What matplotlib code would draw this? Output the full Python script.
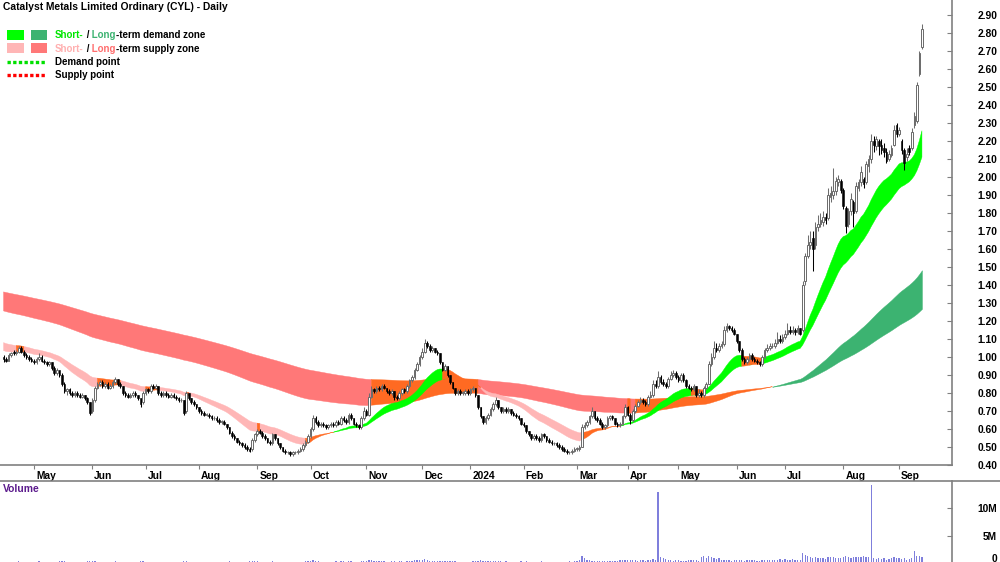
import numpy as np
import pandas as pd
import matplotlib
matplotlib.use("Agg")
import matplotlib.pyplot as plt
import matplotlib.transforms as mtrans
from matplotlib.patches import Rectangle
from matplotlib.lines import Line2D

plt.rcParams['font.family'] = ['Liberation Sans', 'DejaVu Sans']

# ---------------- data ----------------
asx_holidays = ['2023-04-25', '2023-06-12', '2023-12-25', '2023-12-26', '2024-01-01',
                '2024-01-26', '2024-03-29', '2024-04-01', '2024-04-25', '2024-06-10']

opens = [
    1.00, .99, .98, 1.01, 1.03, 1.02, 1.03, 1.05, 1.03, 1.01,
    1.00, .99, .98, .97, .99, 1.00, .98, .97, .96, .97,
    .94, .91, .93, .90, .85, .81, .82, .80, .79, .80,
    .79, .78, .79, .77, .75, .70, .76, .83, .85, .86,
    .84, .85, .83, .84, .86, .88, .85, .84, .80, .79,
    .78, .79, .80, .79, .77, .75, .80, .82, .81, .84,
    .83, .84, .80, .79, .80, .79, .78, .79, .78, .77,
    .76, .76, .70, .80, .77, .75, .74, .72, .70, .69,
    .68, .68, .67, .66, .66, .65, .64, .64, .63, .61,
    .58, .56, .55, .53, .52, .51, .50, .49, .49, .54,
    .57, .59, .58, .56, .55, .53, .52, .57, .55, .52,
    .50, .48, .47, .47, .46, .47, .47, .48, .49, .51,
    .53, .56, .60, .66, .64, .62, .63, .62, .61, .62,
    .63, .62, .64, .63, .66, .65, .64, .68, .66, .63,
    .62, .61, .66, .70, .68, .78, .82, .81, .83, .82,
    .84, .83, .81, .80, .81, .78, .77, .80, .82, .81,
    .84, .87, .89, .93, .96, 1.00, 1.03, 1.08, 1.06, 1.04,
    1.05, 1.03, 1.02, .97, .93, .95, .90, .86, .83, .80,
    .81, .80, .80, .81, .80, .82, .83, .79, .72, .67,
    .64, .66, .68, .71, .74, .76, .72, .70, .71, .70,
    .71, .69, .68, .67, .66, .63, .62, .59, .57, .55,
    .56, .55, .54, .57, .56, .54, .53, .52, .52, .51,
    .50, .49, .48, .47, .47, .48, .49, .49, .50, .61,
    .62, .64, .67, .70, .66, .65, .63, .61, .62, .66,
    .67, .66, .63, .62, .63, .67, .72, .68, .65, .70,
    .73, .75, .76, .75, .74, .78, .79, .85, .84, .89,
    .86, .85, .84, .88, .90, .91, .89, .87, .90, .87,
    .84, .83, .82, .84, .79, .80, .79, .83, .85, .96,
    1.00, 1.05, 1.04, 1.06, 1.07, 1.15, 1.17, 1.16, 1.15, 1.13,
    1.09, 1.04, .99, .97, .99, 1.01, .99, .98, .97, .96,
    1.00, 1.04, 1.05, 1.06, 1.06, 1.08, 1.10, 1.09, 1.11, 1.13,
    1.15, 1.14, 1.15, 1.14, 1.16, 1.15, 1.42, 1.56, 1.62, 1.66,
    1.62, 1.72, 1.74, 1.75, 1.78, 1.77, 1.89, 1.90, 1.92, 1.97,
    1.98, 1.93, 1.83, 1.74, 1.81, 1.86, 1.81, 1.94, 1.97, 1.99,
    1.97, 2.06, 2.10, 2.20, 2.17, 2.20, 2.18, 2.16, 2.14, 2.10,
    2.12, 2.18, 2.29, 2.24, 2.20, 2.15, 2.11, 2.16, 2.16, 2.29,
    2.31, 2.57, 2.72]

highs = [
    1.01, 1.00, 1.02, 1.03, 1.04, 1.04, 1.06, 1.06, 1.04, 1.02,
    1.01, 1.00, .99, 1.00, 1.02, 1.01, .99, .98, .98, .97,
    .95, .94, .93, .91, .86, .83, .83, .81, .81, .81,
    .80, .80, .79, .78, .75, .77, .84, .86, .87, .87,
    .86, .86, .85, .87, .89, .88, .86, .84, .81, .80,
    .80, .81, .81, .79, .77, .81, .83, .83, .85, .85,
    .85, .84, .81, .81, .81, .80, .80, .80, .79, .78,
    .77, .76, .81, .80, .77, .76, .74, .72, .71, .70,
    .69, .69, .68, .67, .67, .66, .65, .65, .63, .61,
    .59, .57, .55, .54, .53, .52, .51, .50, .55, .58,
    .60, .60, .59, .57, .55, .54, .58, .57, .55, .52,
    .50, .49, .48, .48, .48, .48, .49, .50, .52, .54,
    .57, .61, .68, .67, .65, .64, .64, .63, .63, .64,
    .64, .65, .65, .67, .67, .66, .69, .69, .66, .64,
    .63, .67, .72, .71, .80, .84, .83, .84, .84, .85,
    .85, .83, .82, .82, .81, .79, .81, .83, .83, .85,
    .88, .90, .94, .97, 1.01, 1.05, 1.10, 1.09, 1.07, 1.06,
    1.05, 1.04, 1.02, .97, .96, .95, .90, .86, .83, .82,
    .82, .81, .82, .82, .83, .84, .83, .79, .72, .67,
    .67, .69, .72, .75, .78, .76, .72, .72, .72, .72,
    .71, .70, .69, .68, .66, .64, .62, .59, .57, .57,
    .57, .56, .58, .58, .56, .55, .54, .53, .53, .52,
    .51, .50, .49, .48, .49, .50, .50, .51, .63, .64,
    .65, .68, .72, .70, .67, .66, .64, .63, .67, .68,
    .68, .66, .64, .64, .68, .74, .73, .69, .71, .74,
    .76, .78, .77, .76, .79, .81, .87, .87, .92, .90,
    .88, .86, .89, .92, .93, .92, .90, .91, .91, .88,
    .85, .84, .85, .84, .82, .81, .84, .86, .98, 1.02,
    1.09, 1.08, 1.08, 1.09, 1.17, 1.19, 1.18, 1.17, 1.16, 1.13,
    1.09, 1.05, 1.00, 1.00, 1.02, 1.02, 1.00, .99, .98, 1.01,
    1.05, 1.07, 1.08, 1.08, 1.10, 1.14, 1.12, 1.13, 1.15, 1.19,
    1.17, 1.17, 1.16, 1.18, 1.16, 1.42, 1.58, 1.68, 1.70, 1.70,
    1.75, 1.79, 1.80, 1.81, 1.80, 1.94, 1.95, 2.05, 2.00, 2.01,
    1.99, 1.94, 1.84, 1.83, 1.91, 1.87, 1.97, 1.99, 2.06, 2.00,
    2.09, 2.12, 2.24, 2.23, 2.23, 2.21, 2.21, 2.19, 2.16, 2.15,
    2.18, 2.29, 2.30, 2.28, 2.21, 2.16, 2.16, 2.18, 2.27, 2.36,
    2.53, 2.70, 2.85]

lows = [
    .97, .97, .98, 1.00, 1.01, 1.01, 1.02, 1.02, 1.00, .99,
    .98, .97, .96, .96, .98, .97, .96, .95, .95, .93,
    .90, .90, .89, .84, .80, .79, .79, .78, .78, .78,
    .77, .77, .76, .74, .68, .69, .75, .82, .84, .83,
    .83, .82, .82, .83, .85, .84, .83, .79, .78, .77,
    .77, .78, .78, .76, .72, .74, .79, .80, .80, .82,
    .82, .79, .78, .78, .78, .77, .77, .77, .76, .75,
    .75, .68, .69, .76, .74, .73, .71, .69, .68, .67,
    .67, .66, .65, .65, .64, .63, .63, .62, .60, .57,
    .55, .54, .52, .51, .50, .49, .48, .47, .48, .53,
    .56, .57, .55, .54, .52, .51, .51, .54, .51, .49,
    .47, .46, .46, .45, .45, .46, .46, .47, .48, .50,
    .52, .55, .59, .63, .61, .61, .61, .60, .60, .61,
    .61, .61, .62, .62, .64, .63, .63, .65, .62, .61,
    .60, .60, .65, .67, .67, .77, .80, .80, .81, .81,
    .82, .80, .79, .79, .76, .76, .76, .79, .80, .80,
    .83, .86, .88, .92, .95, .99, 1.02, 1.05, 1.03, 1.03,
    1.02, 1.01, .96, .92, .92, .89, .85, .82, .79, .79,
    .79, .79, .79, .79, .79, .81, .78, .71, .66, .63,
    .63, .65, .67, .70, .73, .71, .69, .69, .69, .69,
    .68, .67, .66, .65, .62, .61, .58, .56, .54, .54,
    .54, .53, .53, .55, .53, .52, .51, .51, .50, .49,
    .48, .47, .46, .46, .46, .47, .48, .48, .50, .60,
    .61, .63, .66, .65, .64, .62, .60, .60, .61, .65,
    .65, .62, .61, .61, .62, .66, .67, .63, .64, .69,
    .72, .74, .74, .73, .73, .77, .78, .83, .83, .85,
    .84, .83, .83, .87, .89, .88, .86, .86, .86, .83,
    .82, .81, .81, .78, .78, .78, .78, .82, .85, .95,
    .99, 1.03, 1.03, 1.05, 1.06, 1.14, 1.15, 1.14, 1.12, 1.08,
    1.03, .98, .96, .96, .98, .98, .97, .96, .95, .95,
    .99, 1.03, 1.04, 1.05, 1.05, 1.07, 1.08, 1.08, 1.10, 1.12,
    1.13, 1.13, 1.12, 1.13, 1.12, 1.14, 1.40, 1.55, 1.60, 1.48,
    1.60, 1.70, 1.72, 1.73, 1.74, 1.76, 1.86, 1.88, 1.90, 1.95,
    1.91, 1.82, 1.69, 1.72, 1.79, 1.72, 1.80, 1.92, 1.95, 1.94,
    1.96, 2.03, 2.08, 2.14, 2.15, 2.12, 2.13, 2.11, 2.08, 2.09,
    2.11, 2.17, 2.22, 2.23, 2.13, 2.04, 2.09, 2.12, 2.15, 2.27,
    2.30, 2.56, 2.71]

closes = [
    .99, .98, 1.01, 1.02, 1.02, 1.03, 1.05, 1.03, 1.01, 1.00,
    .99, .98, .97, .99, 1.00, .98, .97, .96, .97, .94,
    .91, .93, .90, .85, .81, .82, .80, .79, .80, .79,
    .78, .79, .77, .75, .69, .76, .83, .85, .86, .84,
    .85, .83, .84, .86, .88, .85, .84, .80, .79, .78,
    .79, .80, .79, .77, .74, .80, .82, .81, .84, .83,
    .84, .80, .79, .80, .79, .78, .79, .78, .77, .76,
    .76, .69, .80, .77, .75, .74, .72, .70, .69, .68,
    .68, .67, .66, .66, .65, .64, .64, .63, .61, .58,
    .56, .55, .53, .52, .51, .50, .49, .48, .54, .57,
    .59, .58, .56, .55, .53, .52, .57, .55, .52, .50,
    .48, .47, .47, .46, .47, .47, .48, .49, .51, .53,
    .56, .60, .66, .64, .62, .63, .62, .61, .62, .63,
    .62, .64, .63, .66, .65, .64, .68, .66, .63, .62,
    .61, .66, .70, .68, .78, .82, .81, .83, .82, .84,
    .83, .81, .80, .81, .78, .77, .80, .82, .81, .84,
    .87, .89, .93, .96, 1.00, 1.03, 1.08, 1.06, 1.04, 1.05,
    1.03, 1.02, .97, .93, .95, .90, .86, .83, .80, .81,
    .80, .80, .81, .80, .82, .83, .79, .72, .67, .64,
    .66, .68, .71, .74, .76, .72, .70, .71, .70, .71,
    .69, .68, .67, .66, .63, .62, .59, .57, .55, .56,
    .55, .54, .57, .56, .54, .53, .52, .52, .51, .50,
    .49, .48, .47, .47, .48, .49, .49, .50, .61, .62,
    .64, .67, .70, .66, .65, .63, .61, .62, .66, .67,
    .66, .63, .62, .63, .67, .72, .68, .65, .70, .73,
    .75, .76, .75, .74, .78, .79, .85, .84, .89, .86,
    .85, .84, .88, .90, .91, .89, .87, .90, .87, .84,
    .83, .82, .84, .79, .80, .79, .83, .85, .96, 1.00,
    1.05, 1.04, 1.06, 1.07, 1.15, 1.17, 1.16, 1.15, 1.13, 1.09,
    1.04, .99, .97, .99, 1.01, .99, .98, .97, .96, 1.00,
    1.04, 1.05, 1.06, 1.06, 1.08, 1.10, 1.09, 1.11, 1.13, 1.15,
    1.14, 1.15, 1.14, 1.16, 1.13, 1.40, 1.56, 1.62, 1.64, 1.60,
    1.72, 1.74, 1.76, 1.78, 1.76, 1.90, 1.91, 1.92, 1.98, 1.99,
    1.93, 1.84, 1.73, 1.81, 1.88, 1.80, 1.95, 1.97, 2.03, 1.96,
    2.07, 2.10, 2.20, 2.18, 2.21, 2.17, 2.15, 2.14, 2.09, 2.13,
    2.16, 2.26, 2.24, 2.26, 2.15, 2.08, 2.13, 2.14, 2.25, 2.34,
    2.51, 2.69, 2.82]

volume_m = [
    .3, .2, .25, .3, .2, .15, .4, .3, .2, .2, .25, .15, .3, .2, .35, .25, .2, .3, .2, .15,
    .3, .25, .35, .4, .5, .3, .25, .2, .3, .2, .25, .3, .2, .35, .5, .45, .4, .3, .25, .3,
    .2, .25, .2, .3, .35, .25, .2, .3, .25, .2, .2, .15, .25, .3, .45, .35, .25, .2, .3, .25,
    .2, .3, .25, .2, .15, .2, .25, .2, .15, .2, .3, .5, .45, .3, .25, .2, .3, .2, .15, .2,
    .25, .2, .15, .2, .2, .25, .3, .2, .3, .35, .3, .25, .2, .3, .25, .2, .3, .35, .45, .4,
    .35, .3, .25, .2, .3, .2, .35, .3, .25, .2, .2, .15, .2, .2, .15, .25, .2, .3, .3, .35,
    .4, .5, .7, .45, .35, .3, .3, .25, .3, .3, .25, .35, .3, .4, .35, .3, .45, .35, .3, .25,
    .3, .45, .5, .4, .7, .6, .45, .4, .35, .4, .35, .3, .3, .35, .4, .3, .35, .4, .3, .4,
    .5, .5, .6, .65, .7, .6, .8, .6, .5, .45, .4, .35, .45, .5, .35, .4, .45, .4, .35, .3,
    .3, .25, .3, .2, .3, .35, .4, .5, .55, .45, .35, .4, .35, .45, .5, .4, .35, .3, .35, .3,
    .3, .25, .3, .3, .35, .3, .35, .3, .3, .25, .3, .25, .35, .3, .3, .25, .2, .25, .3, .25,
    .3, .25, .3, .35, .3, .4, .5, .6, 1.4, .9, .7, .6, .5, .45, .5, .4, .35, .4, .45, .4,
    .35, .4, .5, .55, .6, .7, .6, .55, .6, .55, .5, .6, .7, .5, .55, .6, .8, .7, 12.9, 1.2,
    1.0, .8, .7, .6, .5, .55, .6, .5, .45, .5, .6, .55, .7, .6, .5, 1.1, 1.3, 1.0, 1.4, 1.2,
    .9, .8, 1.0, .7, .6, .7, .6, .5, .55, .6, .7, .6, .5, .55, .6, .65, .6, .5, .5, .55,
    .6, .7, .65, .55, .6, .7, .75, .6, .8, .7, .6, .75, .7, .6, .7, 1.8, 1.6, 1.4, 1.2, 1.0,
    1.1, .9, 1.0, .9, .8, 1.1, 1.2, 1.1, 1.0, .9, 1.0, 1.1, 1.3, 1.2, 1.0, 1.1, 1.2, 1.1, 1.2, 1.3,
    1.1, 1.2, 14.1, 1.0, .8, .9, .8, .9, .7, .8, .9, 1.2, 1.0, .9, .8, .9, .7, .8, 1.0, 2.2, 1.4, 1.3, 1.2]

price_ticks = [0.4, 0.5, 0.6, 0.7, 0.8, 0.9, 1.0, 1.1, 1.2, 1.3, 1.4, 1.5, 1.6, 1.7,
               1.8, 1.9, 2.0, 2.1, 2.2, 2.3, 2.4, 2.5, 2.6, 2.7, 2.8, 2.9]

# Trend-zone moving averages (periods) and their values just before the first bar,
# read from the left edge of the chart
ST_FAST, ST_SLOW = 22, 36
LT_FAST, LT_SLOW = 135, 228
ST_FAST_START, ST_SLOW_START = 1.04, 1.085
LT_FAST_START, LT_SLOW_START = 1.26, 1.365
ST_LOOKBACK, LT_LOOKBACK = 1, 3

# ---------------- derived ----------------
n = len(closes)
o = np.array(opens); h = np.array(highs); l = np.array(lows); c = np.array(closes)
vol = np.array(volume_m) * 1e6
dates = pd.bdate_range('2023-04-12', '2024-09-30', freq='C', holidays=asx_holidays)[:n]
x = np.arange(n)


def ema(vals, period, start):
    a = 2.0 / (period + 1)
    out = np.empty(len(vals))
    e = start
    for i, v in enumerate(vals):
        e = e + a * (v - e)
        out[i] = e
    return out


def zone_state(fast, slow, start, k):
    prev = np.r_[np.full(k, start), fast[:-k]]
    rising = fast >= prev
    return np.where((fast > slow) & rising, 0,
                    np.where((fast < slow) & ~rising, 1, 2))


st_f = ema(c, ST_FAST, ST_FAST_START); st_s = ema(c, ST_SLOW, ST_SLOW_START)
lt_f = ema(c, LT_FAST, LT_FAST_START); lt_s = ema(c, LT_SLOW, LT_SLOW_START)
st_state = zone_state(st_f, st_s, ST_FAST_START, ST_LOOKBACK)
lt_state = zone_state(lt_f, lt_s, LT_FAST_START, LT_LOOKBACK)

ORANGE = '#ff6a22'
ST_COL = {0: '#00ff00', 1: '#ffb6b6', 2: ORANGE}
LT_COL = {0: '#3cb371', 1: '#ff7878', 2: ORANGE}

# ---------------- figure ----------------
W, H = 1000, 562
fig = plt.figure(figsize=(W / 100, H / 100), dpi=100)
FS = 7.4
FS_LEG = 7.0
GRID = '#808080'

ax = fig.add_axes([0, 1 - 465 / H, 952 / W, 465 / H])
axv = fig.add_axes([0, -1.4 / H, 952 / W, (563.4 - 481) / H])

XL = (-1.4, 373.85)


def draw_zone(lo, hi, state, cols, z):
    for s, col in cols.items():
        m = state == s
        ext = m | np.r_[False, m[:-1]]
        if ext.sum() > 1:
            ax.fill_between(x, lo, hi, where=ext, color=col, lw=0.3, ec=col, zorder=z)


draw_zone(np.minimum(lt_f, lt_s), np.maximum(lt_f, lt_s), lt_state, LT_COL, 1)
draw_zone(np.minimum(st_f, st_s), np.maximum(st_f, st_s), st_state, ST_COL, 2)

up = c >= o
dn = ~up
ax.vlines(x[up], l[up], h[up], color='#6e6e6e', lw=0.75, zorder=3)
ax.vlines(x[dn], l[dn], h[dn], color='black', lw=0.75, zorder=3)
body_lo = np.minimum(o, c)
body_h = np.maximum(np.abs(c - o), 0.003)
ax.bar(x[up], body_h[up], bottom=body_lo[up], width=0.65, color='white',
       edgecolor='#6a6a6a', lw=0.7, zorder=4)
ax.bar(x[dn], body_h[dn], bottom=body_lo[dn], width=0.65, color='black',
       edgecolor='black', lw=0.4, zorder=4)

ax.set_xlim(*XL)
ax.set_ylim(0.40, 0.40 + 465 / 180)

for side in ['left', 'top']:
    ax.spines[side].set_visible(False)
for side in ['right', 'bottom']:
    ax.spines[side].set_color(GRID)
    ax.spines[side].set_linewidth(1.2)

ax.yaxis.tick_right()
ax.set_yticks(price_ticks)
ax.set_yticklabels([f'{v:.2f}' for v in price_ticks])
ax.tick_params(axis='y', direction='in', length=3.5, color=GRID, pad=32.4,
               labelsize=FS)
for t in ax.get_yticklabels():
    t.set_ha('right'); t.set_fontweight('bold')

month_idx = [i for i in range(1, n) if dates[i].month != dates[i - 1].month]
month_lab = ['2024' if dates[i].month == 1 else dates[i].strftime('%b') for i in month_idx]
ax.set_xticks(month_idx)
ax.set_xticklabels(month_lab)
ax.tick_params(axis='x', direction='out', length=3, color=GRID, pad=1, labelsize=FS)
off = mtrans.ScaledTranslation(2 / 100, 0, fig.dpi_scale_trans)
for t in ax.get_xticklabels():
    t.set_ha('left'); t.set_fontweight('bold')
    t.set_transform(t.get_transform() + off)

# volume panel
axv.bar(x, vol, width=0.5, color='#7f7fdc', lw=0)
axv.set_xlim(*XL)
axv.set_ylim(0, 14.9e6)
for side in ['left', 'top', 'bottom']:
    axv.spines[side].set_visible(False)
axv.spines['right'].set_color(GRID)
axv.spines['right'].set_linewidth(1.2)
axv.set_xticks([])
axv.yaxis.tick_right()
axv.set_yticks([5e6, 10e6])
axv.set_yticklabels(['5M', '10M'])
axv.tick_params(axis='y', direction='in', length=3.5, color=GRID, pad=32.4, labelsize=FS)
for t in axv.get_yticklabels():
    t.set_ha('right'); t.set_fontweight('bold')
fig.text(997 / W, 1 - 559 / H, '0', ha='right', va='center', fontsize=FS, fontweight='bold')
fig.text(3 / W, 1 - 489 / H, 'Volume', ha='left', va='center', fontsize=FS,
         fontweight='bold', color='#5b1a8c')
fig.add_artist(Line2D([0, 1], [1 - 481 / H] * 2, color=GRID, lw=1.2))

# title & legend
fig.text(3 / W, 1 - 7 / H, 'Catalyst Metals Limited Ordinary (CYL) - Daily', ha='left',
         va='center', fontsize=FS, fontweight='bold')


def rect(x0, y0, x1, y1, col):
    fig.add_artist(Rectangle((x0 / W, 1 - y1 / H), (x1 - x0) / W, (y1 - y0) / H,
                             transform=fig.transFigure, color=col, lw=0))


rect(7, 30, 24, 40, '#00ff00'); rect(31, 30, 47, 40, '#3cb371')
rect(7, 43, 24, 53, '#ffb6b6'); rect(31, 43, 47, 53, '#ff7878')
fig.add_artist(Line2D([7 / W, 45 / W], [1 - 62 / H] * 2, color='#00e000', lw=2.4,
                      linestyle=(0, (1.0, 0.7))))
fig.add_artist(Line2D([7 / W, 45 / W], [1 - 74.5 / H] * 2, color='#ff0000', lw=2.4,
                      linestyle=(0, (1.0, 0.7))))

renderer = fig.canvas.get_renderer()


def rich(xp, yp, parts):
    for s, col in parts:
        t = fig.text(xp / W, 1 - yp / H, s, color=col, fontsize=FS_LEG, fontweight='bold',
                     ha='left', va='center')
        xp += t.get_window_extent(renderer=renderer).width


rich(55, 35, [('Short-', '#00e600'), (' /', 'black'), (' Long', '#3cb371'),
              ('-term demand zone', 'black')])
rich(55, 48.5, [('Short-', '#ffb0b0'), (' /', 'black'), (' Long', '#ff6e6e'),
                ('-term supply zone', 'black')])
rich(55, 62, [('Demand point', 'black')])
rich(55, 74.5, [('Supply point', 'black')])

fig.savefig('out.png', dpi=100)
